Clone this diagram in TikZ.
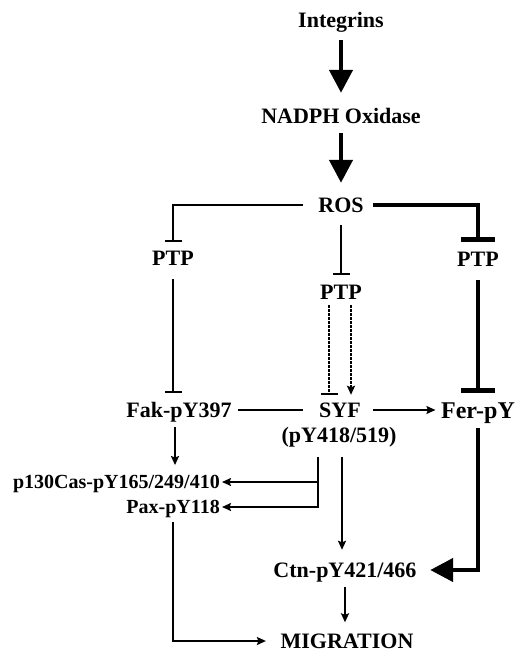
\documentclass[tikz,border=0pt]{standalone}
\usepackage{fontspec}
\setmainfont{Liberation Serif}
\usetikzlibrary{arrows.meta}

\begin{document}
\begin{tikzpicture}[x=1pt,y=-1pt,
    lbl/.style={font=\bfseries\fontsize{22}{24}\selectfont,inner sep=0pt,text height=15pt,text depth=0pt},
    small/.style={lbl,font=\bfseries\fontsize{20}{22}\selectfont,text height=13.5pt},
    big/.style={lbl,font=\bfseries\fontsize{24}{26}\selectfont,text height=16pt},
    act/.style={line width=1.7pt,-{Stealth[length=9pt,width=8pt,inset=1.5pt]}},
    inh/.style={line width=1.7pt,-{Bar[width=17pt]}},
    bigact/.style={line width=4.5pt,-{Triangle[length=23pt,width=23pt]}},
    biginh/.style={line width=4.5pt,-{Bar[width=34pt]}},
    dsh/.style={dash pattern=on 2.5pt off 1.5pt}]
    \useasboundingbox (0,0) rectangle (523,653);
    \node[lbl] (intg) at (341,20) {Integrins};
    \node[lbl] (nadph) at (341,116) {NADPH Oxidase};
    \node[lbl] (ros) at (341,205) {ROS};
    \node[lbl] (ptpL) at (173,258) {PTP};
    \node[lbl] (ptpM) at (341,292) {PTP};
    \node[lbl] (ptpR) at (478,259) {PTP};
    \node[lbl] (fak) at (179,410) {Fak-pY397};
    \node[lbl] (syf) at (340,410) {SYF};
    \node[lbl] (syfsite) at (339,435) {(pY418/519)};
    \node[big] (fer) at (478,410) {Fer-pY};
    \node[small,anchor=east] (cas) at (220,482) {p130Cas-pY165/249/410};
    \node[small,anchor=east] (pax) at (220,507) {Pax-pY118};
    \node[lbl] (ctn) at (345,570) {Ctn-pY421/466};
    \node[lbl] (mig) at (347,641) {MIGRATION};

    \draw[bigact,shorten <=12.5pt,shorten >=15.5pt] (intg.south) -- (nadph.north);
    \draw[bigact,shorten <=9.5pt,shorten >=14.5pt] (nadph.south) -- (ros.north);
    \draw[inh,shorten <=15pt,shorten >=8.5pt] (ros.west) -| (ptpL.north);
    \draw[inh,shorten <=12.5pt,shorten >=9.5pt] (ros.south) -- (ptpM.north);
    \draw[biginh,shorten <=9.5pt,shorten >=9.5pt] (ros.east) -| (ptpR.north);
    \draw[inh,shorten <=13.5pt,shorten >=9.5pt] (ptpL.south) -- (ptpL.south |- fak.north);
    \draw[biginh,shorten <=13.5pt,shorten >=9pt] (ptpR.south) -- (fer.north);
    \draw[inh,dsh,shorten <=5.5pt,shorten >=7.5pt] ([xshift=-12pt]ptpM.south) -- ([xshift=-12pt]ptpM.south |- syf.north);
    \draw[act,dsh,shorten <=5.5pt,shorten >=7.5pt] ([xshift=10pt]ptpM.south) -- ([xshift=10pt]ptpM.south |- syf.north);
    \draw[line width=2.5pt,shorten <=6.5pt,shorten >=16pt] (fak.east) -- (syf.west);
    \draw[act,shorten <=12pt,shorten >=5.5pt] (syf.east) -- (fer.west);
    \draw[act,shorten <=9.5pt,shorten >=10pt] ([xshift=-4pt]fak.south) -- ([xshift=-4pt]fak.south |- cas.north);
    \draw[act,shorten <=14.5pt,shorten >=2pt] ([xshift=-21pt]syfsite.south) |- (cas.east);
    \draw[act,shorten <=14.5pt,shorten >=2pt] ([xshift=-21pt]syfsite.south) |- (pax.east);
    \draw[act,shorten <=14.5pt,shorten >=12.5pt] ([xshift=3pt]syfsite.south) -- ([xshift=3pt]syfsite.south |- ctn.north);
    \draw[bigact,shorten <=10pt,shorten >=13.5pt] (fer.south) |- (ctn.east);
    \draw[act,shorten <=9.5pt,shorten >=11pt] (ctn.south) -- (ctn.south |- mig.north);
    \draw[act,shorten <=8pt,shorten >=14.5pt] (pax.south) |- (mig.west);
  \end{tikzpicture}
\end{document}
